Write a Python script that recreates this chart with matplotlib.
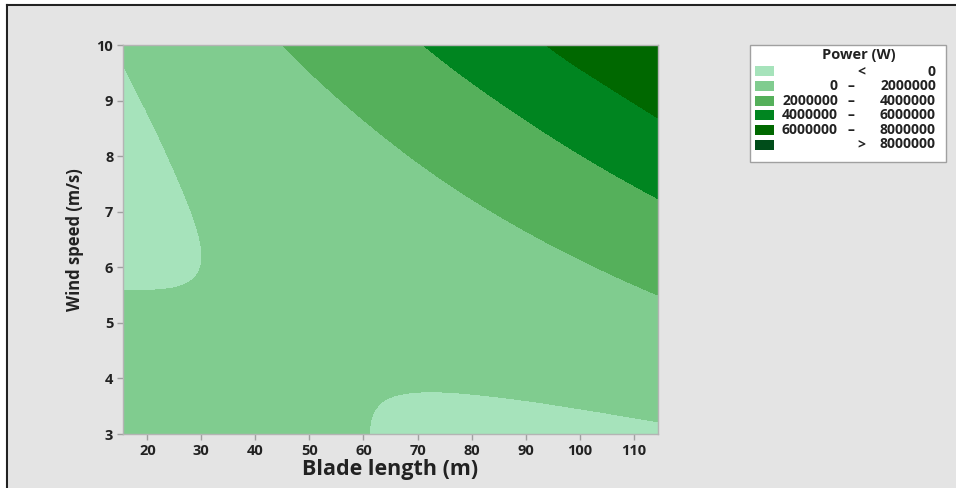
import numpy as np
import matplotlib
matplotlib.use("Agg")
import matplotlib.pyplot as plt
import matplotlib.tri as mtri
from matplotlib.patches import Rectangle
from matplotlib.lines import Line2D

# values (power in MW on a blade length x wind speed grid)
blade_length = [15, 25, 35, 45, 55, 65, 75, 85, 95, 105, 115]
wind_speed = [3, 4, 5, 6, 7, 8, 9, 10]
power_mw = [
    [1.186, 0.847, 0.553, 0.304, 0.101, -0.056, -0.168, -0.234, -0.254, -0.229, -0.158],
    [0.620, 0.414, 0.253, 0.138, 0.069, 0.046, 0.068, 0.135, 0.248, 0.407, 0.612],
    [0.189, 0.117, 0.090, 0.109, 0.173, 0.283, 0.439, 0.640, 0.887, 1.179, 1.517],
    [-0.106, -0.045, 0.062, 0.215, 0.413, 0.656, 0.946, 1.280, 1.661, 2.087, 2.558],
    [-0.264, -0.070, 0.171, 0.457, 0.789, 1.166, 1.589, 2.057, 2.571, 3.131, 3.736],
    [-0.287, 0.042, 0.416, 0.835, 1.300, 1.811, 2.368, 2.970, 3.617, 4.310, 5.049],
    [-0.174, 0.289, 0.796, 1.349, 1.948, 2.593, 3.283, 4.018, 4.799, 5.626, 6.498],
    [0.076, 0.672, 1.313, 2.000, 2.732, 3.510, 4.334, 5.203, 6.118, 7.078, 7.900],
]
levels = [-1e8, 0, 2000000, 4000000, 6000000, 8000000, 1e9]
level_names = [("", "<", "0"),
               ("0", "\u2013", "2000000"),
               ("2000000", "\u2013", "4000000"),
               ("4000000", "\u2013", "6000000"),
               ("6000000", "\u2013", "8000000"),
               ("", ">", "8000000")]
colors = ["#A6E3BB", "#80CC8F", "#55B05B", "#008520", "#006800", "#004D1A"]

plt.rcParams["font.family"] = ["Open Sans", "DejaVu Sans"]

fig = plt.figure(figsize=(9.56, 4.88), dpi=100)
fig.patch.set_facecolor("#E4E4E4")
W, H = 956, 488

# white strips and dark frame lines of the screenshot
fig.add_artist(Rectangle((0, 1 - 5 / H), 1, 5 / H, transform=fig.transFigure, color="white", zorder=0))
fig.add_artist(Rectangle((0, 0), 7 / W, 1, transform=fig.transFigure, color="white", zorder=0))
fig.add_artist(Line2D([7 / W, 1], [1 - 5 / H, 1 - 5 / H], transform=fig.transFigure, color="#222222", lw=1.5))
fig.add_artist(Line2D([7 / W, 7 / W], [0, 1 - 5 / H], transform=fig.transFigure, color="#222222", lw=1.5))

ax = fig.add_axes([123 / W, 1 - 434 / H, (658 - 123) / W, (434 - 45) / H])

X, Y = np.meshgrid(blade_length, wind_speed)
Z = np.array(power_mw) * 1e6
tri = mtri.Triangulation(X.ravel(), Y.ravel())
interp = mtri.CubicTriInterpolator(tri, Z.ravel())
refiner = mtri.UniformTriRefiner(tri)
tri_fine, z_fine = refiner.refine_field(Z.ravel(), triinterpolator=interp, subdiv=4)
ax.tricontourf(tri_fine, z_fine, levels=levels, colors=colors)

ax.set_xlim(15.5, 114.5)
ax.set_ylim(3, 10)
ax.set_xticks(range(20, 111, 10))
ax.set_yticks(range(3, 11))
ax.tick_params(length=4, width=1, color="#A0A0A0", labelsize=10.5, labelcolor="#222222", pad=3)
for lab in ax.get_xticklabels() + ax.get_yticklabels():
    lab.set_fontweight("bold")
for s in ax.spines.values():
    s.set_color("#B4B4B4")
    s.set_linewidth(1)
ax.set_xlabel("Blade length (m)", fontsize=15.5, fontweight="bold", color="#222222", labelpad=1)
ax.set_ylabel("Wind speed (m/s)", fontsize=12, fontweight="bold", color="#222222", labelpad=9)

# legend box
def fx(px):
    return px / W

def fy(py):
    return 1 - py / H

fig.add_artist(Rectangle((fx(750), fy(162)), fx(946) - fx(750), fy(45) - fy(162),
                         transform=fig.transFigure, facecolor="white", edgecolor="#A0A0A0", lw=1))
fig.text(fx(859), fy(55), "Power (W)", ha="center", va="center", fontsize=10.5,
         fontweight="bold", color="#222222")
for i, (c, (lo, mid, hi)) in enumerate(zip(colors, level_names)):
    yc = 71.5 + i * 14.6
    fig.add_artist(Rectangle((fx(755), fy(yc + 5)), fx(774) - fx(755), fy(yc - 5) - fy(yc + 5),
                             transform=fig.transFigure, facecolor=c, edgecolor="none"))
    kw = dict(va="center", fontsize=10, fontweight="bold", color="#222222")
    if lo:
        fig.text(fx(838), fy(yc), lo, ha="right", **kw)
    fig.text(fx(851) if mid == "\u2013" else fx(861), fy(yc), mid, ha="center", **kw)
    fig.text(fx(936), fy(yc), hi, ha="right", **kw)

fig.savefig("out.png", dpi=100, facecolor=fig.get_facecolor())
